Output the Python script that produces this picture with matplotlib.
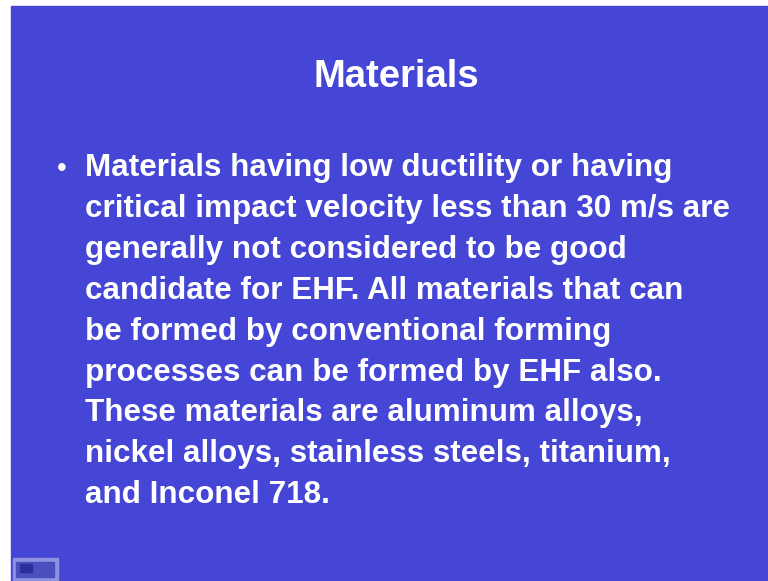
import matplotlib.pyplot as plt
from matplotlib.patches import Rectangle

title = "Materials"
lines = [
    "Materials having low ductility or having",
    "critical impact velocity less than 30 m/s are",
    "generally not considered to be good",
    "candidate for EHF. All materials that can",
    "be formed by conventional forming",
    "processes can be formed by EHF also.",
    "These materials are aluminum alloys,",
    "nickel alloys, stainless steels, titanium,",
    "and Inconel 718.",
]

W, H = 768, 581
bg = "#4546d5"

fig = plt.figure(figsize=(W / 100, H / 100), dpi=100)
fig.patch.set_facecolor("white")
ax = fig.add_axes([0, 0, 1, 1])
ax.set_xlim(0, W)
ax.set_ylim(H, 0)
ax.axis("off")

# slide background
ax.add_patch(Rectangle((11, 6), W - 11, H - 6, color=bg, zorder=0))
# little icon bottom left
ax.add_patch(Rectangle((13, 558), 45, 22, color="#8e90e0", zorder=1))
ax.add_patch(Rectangle((16, 562), 38, 15, color="#4a4fc0", zorder=2))
ax.add_patch(Rectangle((20, 564), 12, 8, color="#2a2d9a", zorder=3))

font = "Liberation Sans"
ax.text(396, 87, title, color="white", fontsize=27.5, fontweight="bold",
        family=font, ha="center", va="baseline")

y0, dy = 176, 40.9
ax.text(62, y0, "•", color="white", fontsize=20, family=font,
        ha="center", va="baseline")
for i, s in enumerate(lines):
    ax.text(85, y0 + i * dy, s, color="white", fontsize=22.6,
            fontweight="bold", family=font, ha="left", va="baseline")

fig.savefig("out.png", dpi=100, facecolor=fig.get_facecolor())
